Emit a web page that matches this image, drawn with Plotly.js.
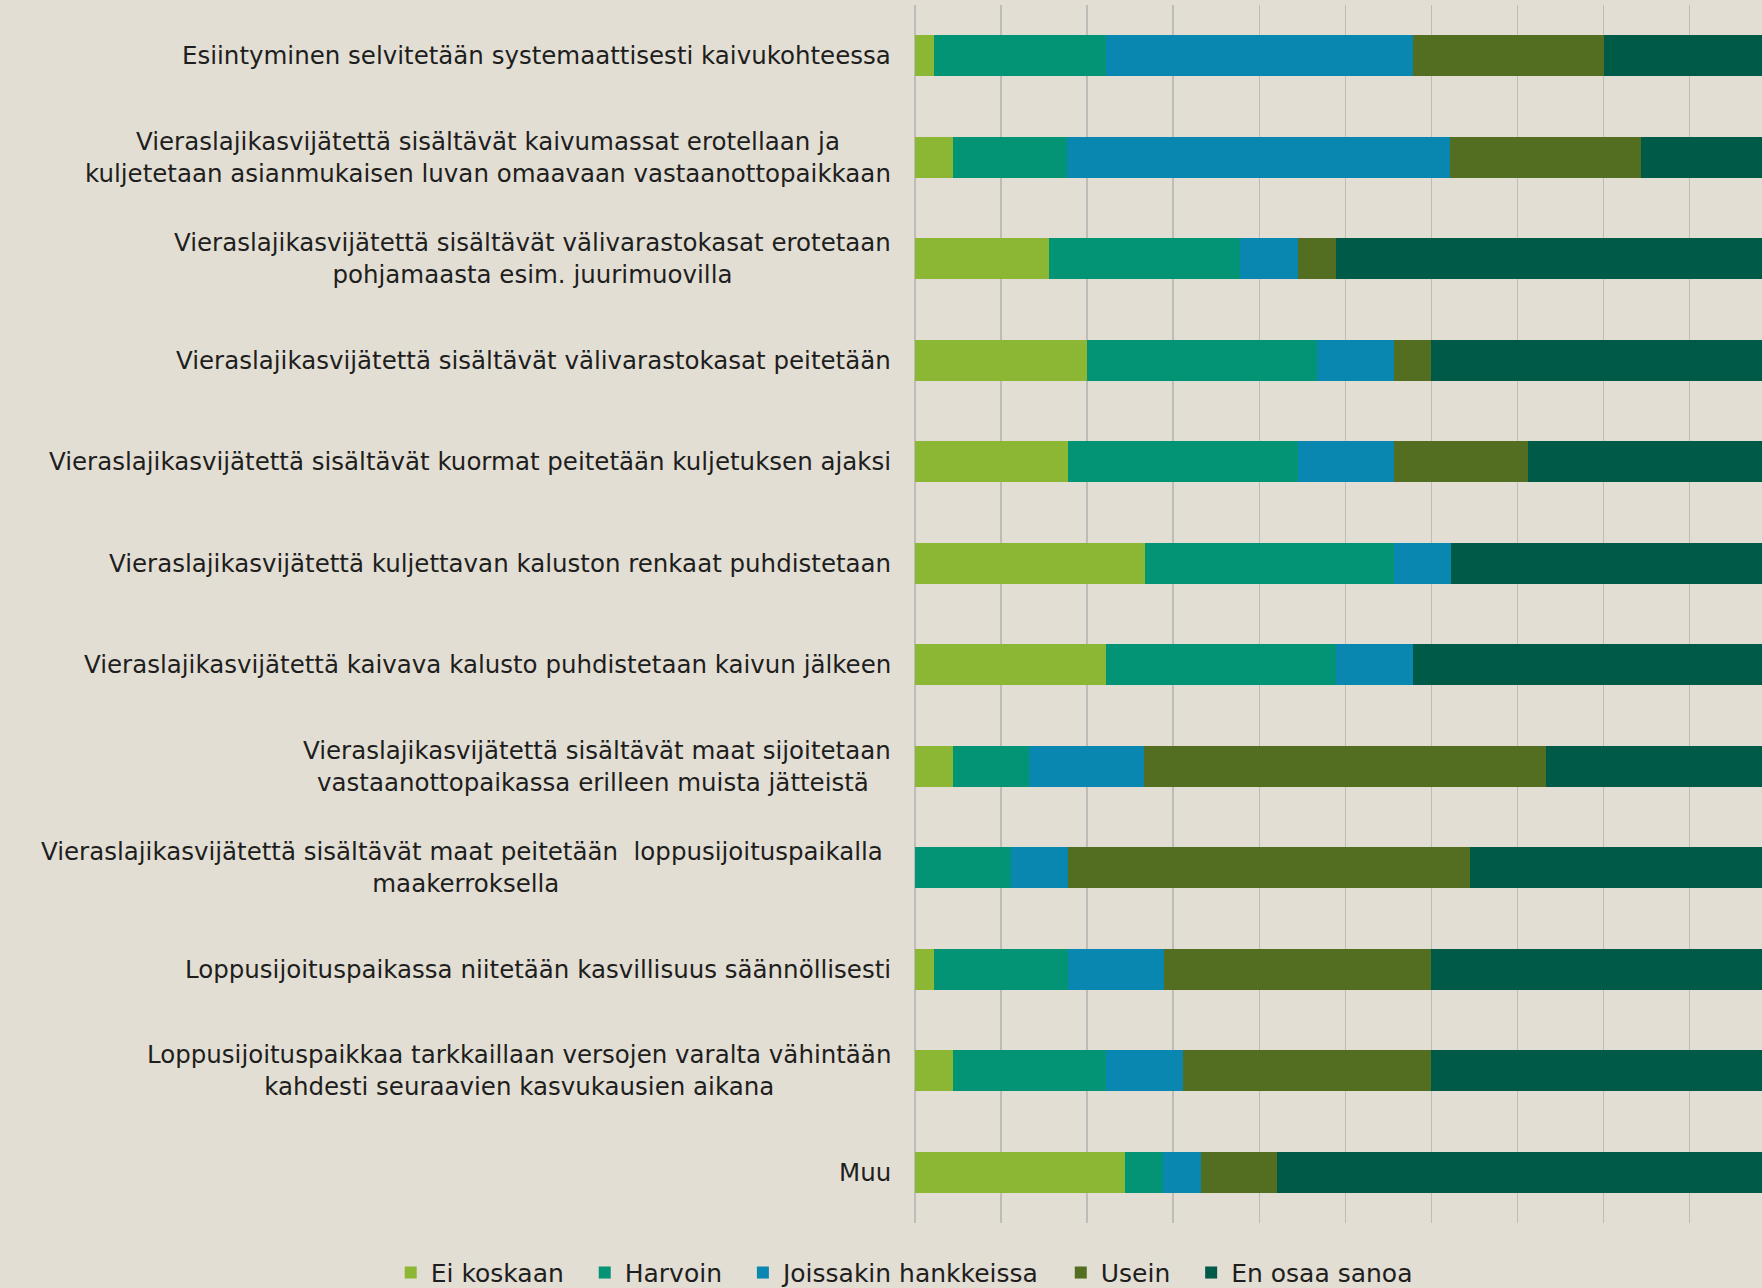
<!DOCTYPE html>
<html>
<head>
<meta charset="utf-8">
<script src="https://cdn.plot.ly/plotly-3.0.1.min.js"></script>
<style>
  html, body { margin: 0; padding: 0; background: #e3ded3; }
  #chart { width: 1762px; height: 1288px; }
</style>
</head>
<body>
<div id="chart"></div>
<script>
// Categories (top to bottom)
const categories = [
  "Esiintyminen selvitetään systemaattisesti kaivukohteessa",
  "Vieraslajikasvijätettä sisältävät kaivumassat erotellaan ja<br>kuljetetaan asianmukaisen luvan omaavaan vastaanottopaikkaan",
  "Vieraslajikasvijätettä sisältävät välivarastokasat erotetaan<br>pohjamaasta esim. juurimuovilla",
  "Vieraslajikasvijätettä sisältävät välivarastokasat peitetään",
  "Vieraslajikasvijätettä sisältävät kuormat peitetään kuljetuksen ajaksi",
  "Vieraslajikasvijätettä kuljettavan kaluston renkaat puhdistetaan",
  "Vieraslajikasvijätettä kaivava kalusto puhdistetaan kaivun jälkeen",
  "Vieraslajikasvijätettä sisältävät maat sijoitetaan<br>vastaanottopaikassa erilleen muista jätteistä\u00a0",
  "Vieraslajikasvijätettä sisältävät maat peitetään  loppusijoituspaikalla\u00a0<br>maakerroksella",
  "Loppusijoituspaikassa niitetään kasvillisuus säännöllisesti",
  "Loppusijoituspaikkaa tarkkaillaan versojen varalta vähintään<br>kahdesti seuraavien kasvukausien aikana",
  "Muu"
];

// Series values (%)
const eiKoskaan  = [2.2, 4.4, 15.6, 20.0, 17.8, 26.7, 22.2, 4.4, 0.0, 2.2, 4.4, 24.4];
const harvoin    = [20.0, 13.3, 22.2, 26.7, 26.7, 28.9, 26.7, 8.9, 11.1, 15.6, 17.8, 4.4];
const joissakin  = [35.6, 44.4, 6.7, 8.9, 11.1, 6.7, 8.9, 13.3, 6.7, 11.1, 8.9, 4.4];
const usein      = [22.2, 22.2, 4.4, 4.4, 15.6, 0.0, 0.0, 46.7, 46.7, 31.1, 28.9, 8.9];
const enOsaa     = [20.0, 15.6, 51.1, 40.0, 28.9, 37.8, 42.2, 26.7, 35.6, 40.0, 40.0, 57.8];

const seriesNames = ["Ei koskaan", "Harvoin", "Joissakin hankkeissa", "Usein", "En osaa sanoa"];
const seriesColors = ["#8cb735", "#029474", "#0a87b0", "#536e20", "#005a48"];
const seriesValues = [eiKoskaan, harvoin, joissakin, usein, enOsaa];

const FONT = "DejaVu Sans, Open Sans, sans-serif";

const traces = seriesNames.map((name, i) => ({
  type: "bar",
  orientation: "h",
  name: name + "\u00a0\u00a0",
  y: categories,
  x: seriesValues[i],
  marker: { color: seriesColors[i], line: { width: 0 } },
  hoverinfo: "skip"
}));

const annotations = categories.map(c => ({
  xref: "paper", yref: "y",
  x: 0, y: c,
  xanchor: "right", yanchor: "middle",
  xshift: -22,
  align: "center",
  showarrow: false,
  text: c,
  font: { family: FONT, size: 24.5, color: "#1e1e1e" }
}));

const layout = {
  width: 1762,
  height: 1288,
  paper_bgcolor: "#e3ded3",
  plot_bgcolor: "#e3ded3",
  barmode: "stack",
  bargap: 0.6,
  margin: { l: 915, r: 0, t: 5, b: 65, pad: 0, autoexpand: false },
  showlegend: true,
  legend: {
    orientation: "h",
    x: -0.619, xanchor: "left",
    y: -0.022, yanchor: "top",
    traceorder: "normal",
    font: { family: FONT, size: 25, color: "#1e1e1e" },
    bgcolor: "rgba(0,0,0,0)",
    itemwidth: 30
  },
  xaxis: {
    range: [0, 98.4],
    dtick: 10,
    tick0: 0,
    showgrid: true,
    gridcolor: "#bdbcb8",
    gridwidth: 1.5,
    zeroline: true,
    zerolinecolor: "#bdbcb8",
    zerolinewidth: 1.5,
    showticklabels: false,
    ticks: "",
    fixedrange: true
  },
  yaxis: {
    type: "category",
    autorange: "reversed",
    showticklabels: false,
    showgrid: false,
    zeroline: false,
    ticks: "",
    fixedrange: true
  },
  annotations: annotations,
  font: { family: FONT, size: 24, color: "#1e1e1e" }
};

Plotly.newPlot("chart", traces, layout, { displayModeBar: false, staticPlot: true });
</script>
</body>
</html>
